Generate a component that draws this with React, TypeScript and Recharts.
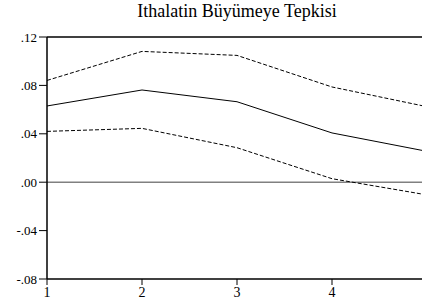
import React from "react";
import { LineChart, Line, XAxis, YAxis, ReferenceLine } from "recharts";

const periods = [1, 2, 3, 4, 5];
const response = [0.063, 0.0762, 0.0665, 0.0407, 0.0255];
const upperBand = [0.0841, 0.1081, 0.1048, 0.0787, 0.0624];
const lowerBand = [0.042, 0.0445, 0.0285, 0.0029, -0.0105];
const yTicks = [-0.08, -0.04, 0, 0.04, 0.08, 0.12];
const xTicks = [1, 2, 3, 4];
const title = "Ithalatin Büyümeye Tepkisi";

const data = periods.map((p, i) => ({
  period: p,
  response: response[i],
  upper: upperBand[i],
  lower: lowerBand[i],
}));

const fmtY = (v: number) => {
  const s = Math.abs(v).toFixed(2).replace(/^0/, "");
  return v < -1e-9 ? "-" + s : s;
};

const font = "Liberation Serif";

export default function App() {
  return (
    <div
      style={{
        position: "absolute",
        left: 0,
        top: 0,
        width: 422,
        height: 304,
        overflow: "hidden",
        background: "#fff",
        fontFamily: font,
      }}
    >
      <div
        style={{
          position: "absolute",
          left: 87,
          width: 300,
          top: 1,
          textAlign: "center",
          fontSize: 18,
          lineHeight: "20px",
          color: "#000",
          whiteSpace: "nowrap",
        }}
      >
        {title}
      </div>
      <LineChart
        width={440}
        height={304}
        data={data}
        margin={{ top: 37, right: 13, bottom: 0, left: 0 }}
      >
        <XAxis
          dataKey="period"
          type="number"
          domain={[1, 5]}
          ticks={xTicks}
          tickSize={6}
          tickMargin={2}
          height={25}
          stroke="#000"
          tick={{ fill: "#000", fontSize: 14, fontFamily: font }}
          axisLine={{ stroke: "#000", strokeWidth: 1.5 }}
        />
        <YAxis
          type="number"
          domain={[-0.08, 0.12]}
          ticks={yTicks}
          tickFormatter={fmtY}
          width={47}
          tickSize={8}
          tickMargin={2}
          interval={0}
          stroke="#000"
          tick={{ fill: "#000", fontSize: 13, fontFamily: font }}
          axisLine={{ stroke: "#000", strokeWidth: 1.5 }}
        />
        <ReferenceLine y={0.12} stroke="#000" strokeWidth={1.5} />
        <ReferenceLine y={0} stroke="#808080" strokeWidth={1.5} />
        <Line
          dataKey="upper"
          stroke="#000"
          strokeWidth={1}
          strokeDasharray="4 2"
          dot={false}
          isAnimationActive={false}
        />
        <Line
          dataKey="response"
          stroke="#000"
          strokeWidth={1}
          dot={false}
          isAnimationActive={false}
        />
        <Line
          dataKey="lower"
          stroke="#000"
          strokeWidth={1}
          strokeDasharray="4 2"
          dot={false}
          isAnimationActive={false}
        />
      </LineChart>
    </div>
  );
}
